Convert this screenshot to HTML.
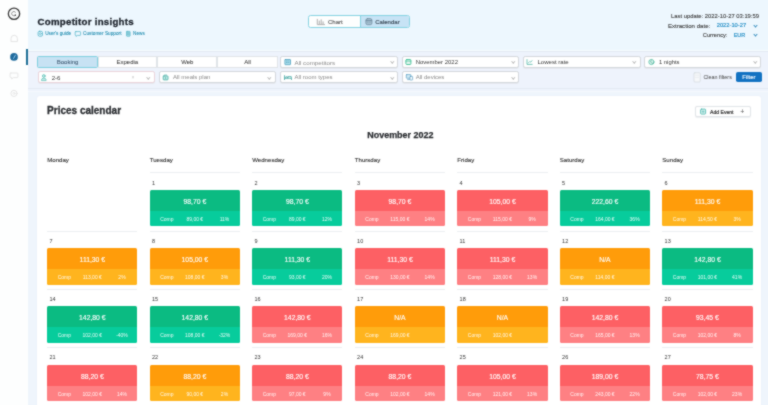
<!DOCTYPE html>
<html><head><meta charset="utf-8"><title>Competitor insights</title>
<style>
*{box-sizing:border-box;margin:0;padding:0}
html,body{width:768px;height:405px;overflow:hidden}
body{position:relative;background:#eff5fc;font-family:"Liberation Sans",sans-serif;color:#333;}
.abs{position:absolute;white-space:nowrap}
#hdr{position:absolute;left:0;top:0;width:768px;height:50px;background:#edf7fe}
#side{position:absolute;left:0;top:0;width:27.5px;height:405px;background:#fdfefe}
#side .ind{position:absolute;left:26px;top:48.5px;width:1.6px;height:16px;background:#1f6f96}
h1{position:absolute;left:37.5px;top:15.6px;font-size:9.7px;letter-spacing:0.26px;font-weight:bold;color:#1c222b;-webkit-text-stroke:0.3px #1c222b;white-space:nowrap}
.lk{position:absolute;top:31.2px;font-size:4.7px;color:#228db0;-webkit-text-stroke:0.08px currentColor;white-space:nowrap}
.lki{position:absolute;top:31.3px;height:5px;border:0.8px solid #66c6d3;border-radius:1.2px}
#tog{position:absolute;left:307.8px;top:14.7px;width:101.8px;height:13.8px;border:1px solid #86d3e2;border-radius:2.5px;background:#fdfefe;overflow:hidden}
#tog .b{position:absolute;left:51px;top:0;width:50px;height:12px;background:#c7e3f5;border-left:1px solid #86d3e2}
.tt{position:absolute;top:18.6px;font-size:6px;white-space:nowrap;-webkit-text-stroke:0.15px currentColor}
.info{position:absolute;font-size:5.8px;color:#3a3a3a;white-space:nowrap;-webkit-text-stroke:0.1px currentColor}
.info.b{color:#1f8cc4;-webkit-text-stroke:0.15px currentColor}
.chev{position:absolute;width:3px;height:3px;border-right:1px solid #3a8fc0;border-bottom:1px solid #3a8fc0;transform:rotate(45deg)}
#fp{position:absolute;left:28px;top:49.5px;width:740px;height:42px;background:#eef3fc;border-top:1px solid #f6fbfe;box-shadow:inset 0 1px 0 #e3eaf3}
#fpb{position:absolute;left:28px;top:88px;width:740px;height:1px;background:#e3eaf3}
#fpc{position:absolute;left:28px;top:91px;width:740px;height:1px;background:#f5f9fe}
.tab{position:absolute;top:56.2px;height:11.8px;background:#fff;border:0.8px solid #e0e4e8;font-size:6px;color:#3c3c3c;text-align:center;line-height:10.4px;-webkit-text-stroke:0.05px currentColor}
.tab.on{background:#c7e2f3;border:1px solid #80d0de;color:#3d5870;border-radius:1.5px}
.sel{position:absolute;height:12px;background:#fff;border:0.9px solid #d3d7dc;border-radius:2.2px;box-shadow:0 0.8px 0.6px #e2e5ea}
.st{position:absolute;font-size:6px;color:#8a8a8a;white-space:nowrap}
.st.d{color:#383838}
.si{position:absolute;width:5.5px;height:5.5px;border:0.9px solid #4dbfae;border-radius:1px}
.dd{position:absolute;width:2.6px;height:2.6px;border-right:0.7px solid #bdbdbd;border-bottom:0.7px solid #bdbdbd;transform:rotate(45deg)}
#cf{position:absolute;left:693.7px;top:72.6px;width:6.5px;height:9.5px;border:0.7px solid #d8dde2;border-radius:1px;background:#f7f9fb}
#cft{position:absolute;left:703.4px;top:74.3px;font-size:5.4px;color:#444;white-space:nowrap}
#fb{position:absolute;left:735.5px;top:71.9px;width:26.8px;height:10.6px;background:#1272c2;border-radius:1.8px;color:#eef6fd;font-size:5.9px;-webkit-text-stroke:0.15px #eef6fd;text-align:center;line-height:10.8px}
#main{position:absolute;left:37px;top:95.5px;width:724.3px;height:320px;background:#fff;border-radius:3px;box-shadow:0 0 2px #e8eef8}
#pc{position:absolute;left:47.1px;top:105.2px;font-size:10px;font-weight:bold;color:#2c2f33;-webkit-text-stroke:0.3px #2c2f33;white-space:nowrap}
#ae{position:absolute;left:695.2px;top:105.8px;width:56.2px;height:11.2px;border:0.8px solid #e2e5e8;border-radius:2px;background:#fff;box-shadow:0 0.8px 1px #eceff2}
#mt{position:absolute;left:367.3px;top:129.8px;font-size:8.95px;font-weight:bold;color:#2c2f33;-webkit-text-stroke:0.25px #2c2f33;white-space:nowrap}
.dh{position:absolute;top:155.6px;font-size:6.1px;color:#333;white-space:nowrap;-webkit-text-stroke:0.12px currentColor}
.cell{position:absolute;width:90.3px;height:58px;border-top:0.8px solid #eceff2}
.dn{position:absolute;left:2.3px;top:6.2px;font-size:5.5px;color:#333}
.box{position:absolute;left:0;top:16.3px;width:90.3px;height:36.6px;border-radius:1.5px;overflow:hidden}
.pt{height:21px;color:#fff;font-size:6.8px;-webkit-text-stroke:0.12px #fff;text-align:center;line-height:23.4px}
.pb{position:relative;height:15.6px;color:#fff;font-size:5px;line-height:16.6px}
.pb span{position:absolute;top:0;transform:translateX(-50%);white-space:nowrap;opacity:.9}
.c1{left:17.2px}.c2{left:45.1px}.c3{left:74.8px}
</style></head><body>
<svg width="0" height="0" style="position:absolute;left:0;top:0"><filter id="bl" x="0" y="0" width="100%" height="100%" color-interpolation-filters="sRGB"><feConvolveMatrix order="3" kernelMatrix="1 2 1 2 12 2 1 2 1" edgeMode="duplicate"/></filter></svg>
<div id="wrap" style="position:absolute;left:0;top:0;width:768px;height:405px;overflow:hidden;background:#eff5fc;filter:url(#bl)">
<div id="hdr"></div>
<div id="side">
  <div class="ind"></div>
</div>

<h1>Competitor insights</h1>
<div class="lk" style="left:45.2px">User's guide</div>
<div class="lk" style="left:83px;letter-spacing:0.03px">Customer Support</div>
<div class="lk" style="left:133px">News</div>

<div id="tog"><div class="b"></div></div>
<div class="tt" style="left:328px;color:#606060">Chart</div>
<div class="tt" style="left:375.2px;color:#3b4a58;letter-spacing:0.02px">Calendar</div>

<div class="info" style="left:671px;top:12.6px;letter-spacing:0.02px">Last update: 2022-10-27 03:19:59</div>
<div class="info" style="left:667.9px;top:22.2px;font-size:6.1px">Extraction date:</div>
<div class="info b" style="left:716.7px;top:22.4px;font-size:5.75px">2022-10-27</div>
<div class="chev" style="left:754px;top:24.2px"></div>
<div class="info" style="left:702.8px;top:31.9px;font-size:5.7px">Currency:</div>
<div class="info b" style="left:733.7px;top:32px;font-size:5.5px">EUR</div>
<div class="chev" style="left:754px;top:33.2px"></div>

<div id="fp"></div><div id="fpb"></div><div id="fpc"></div>
<div class="tab on" style="left:37.3px;width:60.5px">Booking</div>
<div class="tab" style="left:97.6px;width:59.5px">Expedia</div>
<div class="tab" style="left:157.1px;width:60.3px">Web</div>
<div class="tab" style="left:217.4px;width:60.2px">All</div>

<div class="sel" style="left:280.4px;top:56.2px;width:117.7px"></div>
<div class="sel" style="left:401.9px;top:56.2px;width:117.3px"></div>
<div class="sel" style="left:522.8px;top:56.2px;width:118px"></div>
<div class="sel" style="left:644.4px;top:56.2px;width:117px"></div>
<div class="sel" style="left:37.6px;top:71.4px;width:117.9px;border-color:#ebd3da"></div>
<div class="sel" style="left:158.7px;top:71.4px;width:117.5px"></div>
<div class="sel" style="left:280.4px;top:71.4px;width:117.7px"></div>
<div class="sel" style="left:401.9px;top:71.4px;width:117.3px"></div>

<div class="st" style="left:294.5px;top:59.2px;font-size:6.2px">All competitors</div>
<div class="dd" style="left:390.5px;top:60.3px"></div>
<div class="st d" style="left:415.7px;top:59.2px;font-size:5.95px">November 2022</div>
<div class="dd" style="left:511.5px;top:60.3px"></div>
<div class="st d" style="left:537.4px;top:59.2px;font-size:6.07px">Lowest rate</div>
<div class="dd" style="left:633px;top:60.3px"></div>
<div class="st d" style="left:659px;top:59.2px;font-size:5.85px">1 nights</div>
<div class="dd" style="left:754px;top:60.3px"></div>

<div class="st d" style="left:51.7px;top:74.4px;font-size:6.1px;color:#3a3a3a">2-6</div>
<div class="abs" style="left:131.5px;top:73.8px;font-size:5px;color:#c8c8c8">×</div>
<div class="dd" style="left:147px;top:75.5px"></div>
<div class="st" style="left:173px;top:74.4px">All meals plan</div>
<div class="dd" style="left:268px;top:75.5px"></div>
<div class="st" style="left:294.5px;top:74.4px">All room types</div>
<div class="dd" style="left:390.5px;top:75.5px"></div>
<div class="st" style="left:415.7px;top:74.4px">All devices</div>
<div class="dd" style="left:511.5px;top:75.5px"></div>

<div id="cf"></div><div id="cft">Clean filters</div>
<div id="fb">Filter</div>

<div id="main"></div>
<div id="pc">Prices calendar</div>
<div id="ae"></div>
<div class="abs" style="left:710px;top:108.6px;font-size:5.1px;color:#333;-webkit-text-stroke:0.2px #333">Add Event</div>
<div class="abs" style="left:740.3px;top:107.9px;font-size:7px;color:#555">+</div>
<div id="mt">November 2022</div>
<div class="dh" style="left:47.2px">Monday</div>
<div class="dh" style="left:149.7px">Tuesday</div>
<div class="dh" style="left:252.2px">Wednesday</div>
<div class="dh" style="left:354.8px">Thursday</div>
<div class="dh" style="left:457.3px">Friday</div>
<div class="dh" style="left:559.8px">Saturday</div>
<div class="dh" style="left:662.3px">Sunday</div>
<div class="cell" style="left:149.7px;top:172.4px"><div class="dn">1</div><div class="box"><div class="pt" style="background:#0bbb82">98,70 €</div><div class="pb" style="background:#07cc9c"><span class="c1">Comp</span><span class="c2">89,00 €</span><span class="c3">11%</span></div></div></div>
<div class="cell" style="left:252.2px;top:172.4px"><div class="dn">2</div><div class="box"><div class="pt" style="background:#0bbb82">98,70 €</div><div class="pb" style="background:#07cc9c"><span class="c1">Comp</span><span class="c2">89,00 €</span><span class="c3">12%</span></div></div></div>
<div class="cell" style="left:354.8px;top:172.4px"><div class="dn">3</div><div class="box"><div class="pt" style="background:#fd6064">98,70 €</div><div class="pb" style="background:#fe8083"><span class="c1">Comp</span><span class="c2">115,00 €</span><span class="c3">14%</span></div></div></div>
<div class="cell" style="left:457.3px;top:172.4px"><div class="dn">4</div><div class="box"><div class="pt" style="background:#fd6064">105,00 €</div><div class="pb" style="background:#fe8083"><span class="c1">Comp</span><span class="c2">115,00 €</span><span class="c3">9%</span></div></div></div>
<div class="cell" style="left:559.8px;top:172.4px"><div class="dn">5</div><div class="box"><div class="pt" style="background:#0bbb82">222,60 €</div><div class="pb" style="background:#07cc9c"><span class="c1">Comp</span><span class="c2">164,00 €</span><span class="c3">36%</span></div></div></div>
<div class="cell" style="left:662.3px;top:172.4px"><div class="dn">6</div><div class="box"><div class="pt" style="background:#ff9c0a">111,30 €</div><div class="pb" style="background:#ffb41e"><span class="c1">Comp</span><span class="c2">114,50 €</span><span class="c3">3%</span></div></div></div>
<div class="cell" style="left:47.2px;top:230.7px"><div class="dn">7</div><div class="box"><div class="pt" style="background:#ff9c0a">111,30 €</div><div class="pb" style="background:#ffb41e"><span class="c1">Comp</span><span class="c2">113,00 €</span><span class="c3">2%</span></div></div></div>
<div class="cell" style="left:149.7px;top:230.7px"><div class="dn">8</div><div class="box"><div class="pt" style="background:#ff9c0a">105,00 €</div><div class="pb" style="background:#ffb41e"><span class="c1">Comp</span><span class="c2">108,00 €</span><span class="c3">3%</span></div></div></div>
<div class="cell" style="left:252.2px;top:230.7px"><div class="dn">9</div><div class="box"><div class="pt" style="background:#0bbb82">111,30 €</div><div class="pb" style="background:#07cc9c"><span class="c1">Comp</span><span class="c2">93,00 €</span><span class="c3">20%</span></div></div></div>
<div class="cell" style="left:354.8px;top:230.7px"><div class="dn">10</div><div class="box"><div class="pt" style="background:#fd6064">111,30 €</div><div class="pb" style="background:#fe8083"><span class="c1">Comp</span><span class="c2">130,00 €</span><span class="c3">14%</span></div></div></div>
<div class="cell" style="left:457.3px;top:230.7px"><div class="dn">11</div><div class="box"><div class="pt" style="background:#fd6064">111,30 €</div><div class="pb" style="background:#fe8083"><span class="c1">Comp</span><span class="c2">128,00 €</span><span class="c3">13%</span></div></div></div>
<div class="cell" style="left:559.8px;top:230.7px"><div class="dn">12</div><div class="box"><div class="pt" style="background:#ff9c0a">N/A</div><div class="pb" style="background:#ffb41e"><span class="c1">Comp</span><span class="c2">114,00 €</span><span class="c3"></span></div></div></div>
<div class="cell" style="left:662.3px;top:230.7px"><div class="dn">13</div><div class="box"><div class="pt" style="background:#0bbb82">142,80 €</div><div class="pb" style="background:#07cc9c"><span class="c1">Comp</span><span class="c2">101,00 €</span><span class="c3">41%</span></div></div></div>
<div class="cell" style="left:47.2px;top:289.0px"><div class="dn">14</div><div class="box"><div class="pt" style="background:#0bbb82">142,80 €</div><div class="pb" style="background:#07cc9c"><span class="c1">Comp</span><span class="c2">102,00 €</span><span class="c3">-40%</span></div></div></div>
<div class="cell" style="left:149.7px;top:289.0px"><div class="dn">15</div><div class="box"><div class="pt" style="background:#0bbb82">142,80 €</div><div class="pb" style="background:#07cc9c"><span class="c1">Comp</span><span class="c2">108,00 €</span><span class="c3">-32%</span></div></div></div>
<div class="cell" style="left:252.2px;top:289.0px"><div class="dn">16</div><div class="box"><div class="pt" style="background:#fd6064">142,80 €</div><div class="pb" style="background:#fe8083"><span class="c1">Comp</span><span class="c2">169,00 €</span><span class="c3">16%</span></div></div></div>
<div class="cell" style="left:354.8px;top:289.0px"><div class="dn">17</div><div class="box"><div class="pt" style="background:#ff9c0a">N/A</div><div class="pb" style="background:#ffb41e"><span class="c1">Comp</span><span class="c2">169,00 €</span><span class="c3"></span></div></div></div>
<div class="cell" style="left:457.3px;top:289.0px"><div class="dn">18</div><div class="box"><div class="pt" style="background:#ff9c0a">N/A</div><div class="pb" style="background:#ffb41e"><span class="c1">Comp</span><span class="c2">102,00 €</span><span class="c3"></span></div></div></div>
<div class="cell" style="left:559.8px;top:289.0px"><div class="dn">19</div><div class="box"><div class="pt" style="background:#fd6064">142,80 €</div><div class="pb" style="background:#fe8083"><span class="c1">Comp</span><span class="c2">165,00 €</span><span class="c3">13%</span></div></div></div>
<div class="cell" style="left:662.3px;top:289.0px"><div class="dn">20</div><div class="box"><div class="pt" style="background:#fd6064">93,45 €</div><div class="pb" style="background:#fe8083"><span class="c1">Comp</span><span class="c2">102,00 €</span><span class="c3">8%</span></div></div></div>
<div class="cell" style="left:47.2px;top:347.3px"><div class="dn">21</div><div class="box"><div class="pt" style="background:#fd6064">88,20 €</div><div class="pb" style="background:#fe8083"><span class="c1">Comp</span><span class="c2">102,00 €</span><span class="c3">14%</span></div></div></div>
<div class="cell" style="left:149.7px;top:347.3px"><div class="dn">22</div><div class="box"><div class="pt" style="background:#ff9c0a">88,20 €</div><div class="pb" style="background:#ffb41e"><span class="c1">Comp</span><span class="c2">90,00 €</span><span class="c3">2%</span></div></div></div>
<div class="cell" style="left:252.2px;top:347.3px"><div class="dn">23</div><div class="box"><div class="pt" style="background:#fd6064">88,20 €</div><div class="pb" style="background:#fe8083"><span class="c1">Comp</span><span class="c2">97,00 €</span><span class="c3">9%</span></div></div></div>
<div class="cell" style="left:354.8px;top:347.3px"><div class="dn">24</div><div class="box"><div class="pt" style="background:#fd6064">88,20 €</div><div class="pb" style="background:#fe8083"><span class="c1">Comp</span><span class="c2">102,00 €</span><span class="c3">14%</span></div></div></div>
<div class="cell" style="left:457.3px;top:347.3px"><div class="dn">25</div><div class="box"><div class="pt" style="background:#fd6064">105,00 €</div><div class="pb" style="background:#fe8083"><span class="c1">Comp</span><span class="c2">121,00 €</span><span class="c3">13%</span></div></div></div>
<div class="cell" style="left:559.8px;top:347.3px"><div class="dn">26</div><div class="box"><div class="pt" style="background:#fd6064">189,00 €</div><div class="pb" style="background:#fe8083"><span class="c1">Comp</span><span class="c2">243,00 €</span><span class="c3">22%</span></div></div></div>
<div class="cell" style="left:662.3px;top:347.3px"><div class="dn">27</div><div class="box"><div class="pt" style="background:#fd6064">78,75 €</div><div class="pb" style="background:#fe8083"><span class="c1">Comp</span><span class="c2">102,00 €</span><span class="c3">23%</span></div></div></div>
<svg id="ico" width="768" height="405" viewBox="0 0 768 405" style="position:absolute;left:0;top:0;pointer-events:none" fill="none" stroke-linecap="round" stroke-linejoin="round">
<!-- sidebar logo -->
<circle cx="14" cy="13.8" r="5.65" stroke="#363636" stroke-width="1.3"/>
<path d="M15.5 12.2 A2.2 2.2 0 1 0 15.6 15" stroke="#888" stroke-width="0.9"/>
<circle cx="15.3" cy="15.3" r="0.8" fill="#444"/>
<!-- sidebar icons -->
<path d="M11 41.2 V38.5 a3.2 3.2 0 0 1 6.4 0 V41.2 Z" stroke="#e4e4e4" stroke-width="1"/>
<circle cx="14" cy="56.9" r="3.85" fill="#1f6a9c"/>
<path d="M13.6 58.4 L15.4 55.1" stroke="#8cc4ec" stroke-width="1"/>
<path d="M10.9 73 h6.2 a0.8 0.8 0 0 1 0.8 0.8 v3 a0.8 0.8 0 0 1 -0.8 0.8 h-3.6 l-1.8 1.4 v-1.4 h-0.8 a0.8 0.8 0 0 1 -0.8 -0.8 v-3 a0.8 0.8 0 0 1 0.8 -0.8z" stroke="#e6e6e6" stroke-width="1"/>
<circle cx="14" cy="93.4" r="3.1" stroke="#e6e6e6" stroke-width="1"/>
<circle cx="14" cy="93.4" r="1" stroke="#e6e6e6" stroke-width="0.8"/>
<!-- header links -->
<rect x="38.1" y="31.3" width="4.4" height="4.9" rx="1.3" stroke="#4fb3c7" stroke-width="0.8"/>
<circle cx="40.3" cy="33.7" r="1" stroke="#4fb3c7" stroke-width="0.6"/>
<path d="M75.8 31.6 h4.2 a0.6 0.6 0 0 1 0.6 0.6 v2.6 a0.6 0.6 0 0 1 -0.6 0.6 h-2.6 l-1.4 1 v-1 h-0.2 a0.6 0.6 0 0 1 -0.6 -0.6 v-2.6 a0.6 0.6 0 0 1 0.6 -0.6z" stroke="#4fb3c7" stroke-width="0.7"/>
<rect x="126.5" y="31.4" width="3.6" height="4.8" rx="0.5" fill="#a9dde6" stroke="#4fb3c7" stroke-width="0.7"/>
<path d="M127.4 32.9 h1.8 M127.4 34.2 h1.8" stroke="#3a9fb5" stroke-width="0.5"/>
<!-- toggle icons -->
<path d="M317.3 19.3 V24.6 H324.6" stroke="#a8a8a8" stroke-width="0.9"/>
<path d="M319.3 24.2 V21 M321.2 24.2 V19.8 M323.1 24.2 V21.8" stroke="#b4b4b4" stroke-width="1.1"/>
<rect x="365.9" y="18.6" width="6" height="6.1" rx="1.6" fill="#a7c2d3" stroke="#6e8b9e" stroke-width="0.8"/>
<path d="M366.2 20.6 H371.6 M367.9 22.3 h0.01 M369.9 22.3 h0.01" stroke="#5f7c90" stroke-width="0.7"/>
<!-- select icons row 1 -->
<rect x="284.9" y="59.5" width="5.6" height="5.2" rx="0.4" fill="#b4e4ee" stroke="#4d9fbf" stroke-width="0.8"/>
<path d="M286.4 61 h0.8 M288.2 61 h0.8 M286.4 62.6 h0.8 M288.2 62.6 h0.8" stroke="#4d9fbf" stroke-width="0.7"/>
<rect x="405.9" y="59.5" width="5" height="5" rx="0.9" fill="#e4f6ef" stroke="#3dbf95" stroke-width="0.9"/>
<path d="M406 61.1 H410.8" stroke="#3dbf95" stroke-width="0.7"/>
<path d="M527 59.6 V64.4 H532.2" stroke="#55b7a8" stroke-width="0.8"/>
<path d="M528.3 63 L529.8 61.4 L530.8 62.2 L532 60.6" stroke="#55b7a8" stroke-width="0.7"/>
<circle cx="651.4" cy="62" r="2.6" fill="#dcf4ee" stroke="#5cc0a8" stroke-width="0.8"/>
<path d="M651.8 59.6 A2 2 0 0 0 653.6 63.2" stroke="#3fa58c" stroke-width="0.6"/>
<!-- select icons row 2 -->
<circle cx="43.8" cy="76" r="1.4" fill="#c5ece8" stroke="#55bdb3" stroke-width="0.7"/>
<path d="M41.5 80.2 v-0.4 a2.3 1.6 0 0 1 4.6 0 v0.4 z" fill="#c5ece8" stroke="#55bdb3" stroke-width="0.7"/>
<rect x="163.2" y="75.9" width="4.8" height="4" rx="0.7" fill="#c5ece8" stroke="#3aa89d" stroke-width="0.75"/><path d="M164.6 75 h2 M165.6 77.2 v1.5" stroke="#3aa89d" stroke-width="0.6"/>
<path d="M284.5 75.6 V79.6 M284.5 78.3 H291.5 V79.6 M285.8 77.8 v-1 h1.6 v1 M288 77.8 v-1.2 h3.3 v1.7" stroke="#47a9a6" stroke-width="0.8"/>
<rect x="406.3" y="74.6" width="4.6" height="3.6" rx="0.4" fill="#d2ecf6" stroke="#5d9fc4" stroke-width="0.7"/>
<path d="M407.6 79.6 h2" stroke="#5d9fc4" stroke-width="0.7"/>
<rect x="410" y="76.4" width="2.6" height="3.6" rx="0.4" fill="#fff" stroke="#5d9fc4" stroke-width="0.7"/>
<!-- clean filters icon -->
<rect x="694" y="72.8" width="6.2" height="9.2" rx="0.8" fill="#f6f8fa" stroke="#d3d8dd" stroke-width="0.7"/>
<path d="M695.6 75.2 h3 M695.6 77.4 h3" stroke="#e0e4e8" stroke-width="0.6"/>
<!-- add event icon -->
<rect x="700.6" y="109.1" width="5" height="5" rx="0.8" fill="#d8f1ee" stroke="#4fb9b0" stroke-width="0.85"/>
<path d="M703.1 110.7 v1.9 M702.15 111.65 h1.9" stroke="#4fb9b0" stroke-width="0.6"/>
</svg>
</div>
</body></html>
